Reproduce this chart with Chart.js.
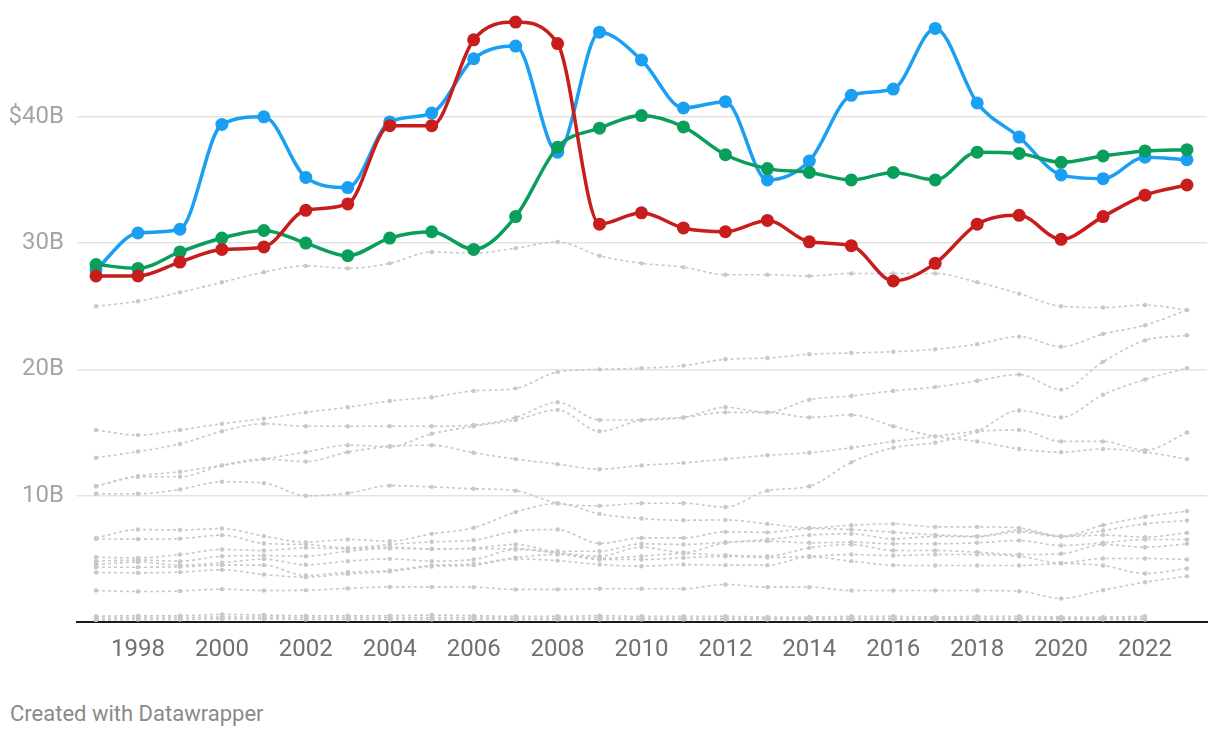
<!DOCTYPE html>
<html>
<head>
<meta charset="utf-8">
<script src="https://cdn.jsdelivr.net/npm/chart.js@4.4.1/dist/chart.umd.min.js"></script>
<style>
  body { margin: 0; background: #fff; font-family: Roboto, sans-serif; }
  #wrap { position: relative; width: 1220px; height: 738px; }
  #chart { position: absolute; left: 0; top: 0; }
  #credit { position: absolute; left: 10px; top: 703px; font-size: 22px; line-height: 22px; color: #8a8a8a; }
</style>
</head>
<body>
<div id="wrap">
  <canvas id="chart" width="1220" height="680"></canvas>
  <div id="credit">Created with Datawrapper</div>
</div>
<script>
const years = [1997, 1998, 1999, 2000, 2001, 2002, 2003, 2004, 2005, 2006, 2007, 2008, 2009,
  2010, 2011, 2012, 2013, 2014, 2015, 2016, 2017, 2018, 2019, 2020, 2021, 2022, 2023];
const xTicks = [1998, 2000, 2002, 2004, 2006, 2008, 2010, 2012, 2014, 2016, 2018, 2020, 2022];
const yTicks = [0, 10, 20, 30, 40];

// highlighted series (billions)
const red = [27.4, 27.4, 28.5, 29.5, 29.7, 32.6, 33.1, 39.3, 39.3, 46.1, 47.5, 45.8, 31.5, 32.4,
  31.2, 30.9, 31.8, 30.1, 29.8, 27.0, 28.4, 31.5, 32.2, 30.3, 32.1, 33.8, 34.6];
const green = [28.3, 28.0, 29.3, 30.4, 31.0, 30.0, 29.0, 30.4, 30.9, 29.5, 32.1, 37.6, 39.1, 40.1,
  39.2, 37.0, 35.9, 35.6, 35.0, 35.6, 35.0, 37.2, 37.1, 36.4, 36.9, 37.3, 37.4];
const blue = [27.9, 30.8, 31.1, 39.4, 40.0, 35.2, 34.4, 39.6, 40.3, 44.6, 45.6, 37.2, 46.7, 44.5,
  40.7, 41.2, 35.0, 36.5, 41.7, 42.2, 47.0, 41.1, 38.4, 35.4, 35.1, 36.8, 36.6];

// background series
const grayA = [25.0, 25.4, 26.1, 26.9, 27.7, 28.2, 28.0, 28.4, 29.3, 29.2, 29.6, 30.1, 29.0, 28.4,
  28.1, 27.5, 27.5, 27.4, 27.6, 27.6, 27.6, 26.9, 26.0, 25.0, 24.9, 25.1, 24.7];
const grayB = [15.2, 14.8, 15.2, 15.7, 16.1, 16.6, 17.0, 17.5, 17.8, 18.3, 18.5, 19.8, 20.0, 20.1,
  20.3, 20.8, 20.9, 21.2, 21.3, 21.4, 21.6, 22.0, 22.6, 21.8, 22.8, 23.5, 24.7];
const grayC = [13.0, 13.5, 14.1, 15.1, 15.7, 15.5, 15.5, 15.5, 15.5, 15.6, 16.2, 17.4, 16.0, 16.0,
  16.2, 17.0, 16.6, 17.6, 17.9, 18.3, 18.6, 19.1, 19.6, 18.4, 20.6, 22.3, 22.7];
const grayD = [10.75, 11.55, 11.9, 12.4, 12.9, 13.45, 14.0, 13.9, 14.9, 15.5, 16.0, 16.8, 15.1, 16.0,
  16.2, 16.6, 16.6, 16.2, 16.4, 15.5, 14.7, 14.3, 13.7, 13.45, 13.7, 13.45, 12.9];
const grayE = [10.75, 11.5, 11.5, 12.4, 12.9, 12.7, 13.45, 13.9, 14.0, 13.4, 12.9, 12.5, 12.1, 12.4,
  12.6, 12.9, 13.2, 13.4, 13.8, 14.3, 14.7, 15.1, 15.2, 14.3, 14.3, 13.6, 15.0];
const grayF = [10.15, 10.15, 10.5, 11.1, 11.0, 10.0, 10.2, 10.8, 10.7, 10.55, 10.4, 9.4, 9.2, 9.4,
  9.4, 9.1, 10.4, 10.75, 12.65, 13.8, 14.2, 15.1, 16.75, 16.2, 18.0, 19.2, 20.1];
const grayG = [6.66, 7.32, 7.29, 7.4, 6.8, 6.32, 6.53, 6.4, 6.98, 7.46, 8.7, 9.38, 8.56, 8.19,
  8.06, 8.08, 7.77, 7.45, 7.67, 7.77, 7.53, 7.53, 7.45, 6.8, 7.67, 8.33, 8.78];
const grayH = [6.58, 6.56, 6.6, 6.88, 6.22, 6.14, 5.87, 6.14, 6.35, 6.48, 7.19, 7.32, 6.22, 6.66,
  6.66, 7.14, 7.1, 7.4, 7.32, 7.11, 6.9, 6.8, 7.27, 6.78, 7.24, 7.77, 8.04];
const grayI = [5.13, 5.08, 5.34, 5.74, 5.66, 5.87, 5.8, 5.93, 5.79, 5.85, 6.14, 5.6, 5.6, 6.19,
  6.14, 6.32, 6.53, 6.88, 6.98, 6.58, 6.78, 6.75, 7.14, 6.75, 6.88, 6.72, 7.06];
const grayJ = [4.82, 4.9, 4.82, 5.21, 5.26, 5.21, 5.61, 5.82, 5.79, 5.8, 5.8, 5.5, 5.21, 5.93,
  5.5, 6.27, 6.4, 6.27, 6.32, 6.19, 6.19, 6.27, 6.45, 6.06, 6.27, 6.53, 6.53];
const grayK = [4.55, 4.74, 4.5, 4.69, 4.98, 4.53, 4.82, 5.0, 4.82, 4.95, 5.74, 5.45, 5.05, 5.21,
  5.42, 5.29, 5.21, 5.87, 6.14, 5.66, 5.66, 5.53, 5.34, 5.4, 6.14, 5.92, 6.19];
const grayL = [4.34, 4.34, 4.37, 4.5, 4.5, 3.68, 3.95, 4.08, 4.48, 4.6, 5.1, 5.35, 4.95, 4.95,
  5.08, 5.2, 5.1, 5.21, 5.34, 5.26, 5.34, 5.34, 5.2, 4.68, 5.03, 5.03, 4.95];
const grayM = [3.92, 3.89, 3.95, 4.13, 3.76, 3.55, 3.81, 4.0, 4.4, 4.5, 5.0, 4.86, 4.55, 4.42,
  4.55, 4.5, 4.5, 5.15, 4.82, 4.5, 4.47, 4.47, 4.47, 4.63, 4.47, 3.84, 4.24];
const grayN = [2.49, 2.41, 2.45, 2.6, 2.49, 2.52, 2.65, 2.78, 2.78, 2.76, 2.58, 2.58, 2.63, 2.63,
  2.63, 2.97, 2.76, 2.76, 2.49, 2.49, 2.49, 2.49, 2.44, 1.86, 2.52, 3.15, 3.63];
const grayO = [0.45, 0.5, 0.5, 0.6, 0.55, 0.5, 0.5, 0.5, 0.55, 0.5, 0.45, 0.45, 0.5, 0.45,
  0.45, 0.45, 0.4, 0.4, 0.45, 0.45, 0.4, 0.45, 0.45, 0.4, 0.4, 0.45, null];
const grayP = [0.3, 0.35, 0.35, 0.4, 0.4, 0.35, 0.35, 0.35, 0.35, 0.35, 0.3, 0.3, 0.35, 0.3,
  0.3, 0.3, 0.3, 0.3, 0.3, 0.3, 0.3, 0.3, 0.3, 0.3, 0.3, 0.3, null];
const grayQ = [0.15, 0.2, 0.2, 0.25, 0.25, 0.2, 0.2, 0.2, 0.2, 0.2, 0.2, 0.2, 0.2, 0.2,
  0.2, 0.2, 0.2, 0.2, 0.2, 0.2, 0.2, 0.2, 0.2, 0.2, 0.2, 0.2, null];

const grays = [grayA, grayB, grayC, grayD, grayE, grayF, grayG, grayH, grayI, grayJ, grayK,
  grayL, grayM, grayN, grayO, grayP, grayQ];

const toPoints = (vals) => vals.map((v, i) => ({ x: years[i], y: v }));

function mainLine(vals, color, order) {
  return {
    data: toPoints(vals),
    borderColor: color,
    backgroundColor: color,
    borderWidth: 3.5,
    pointRadius: 6.5,
    pointBorderWidth: 0,
    cubicInterpolationMode: 'monotone',
    order
  };
}

function grayLine(vals) {
  return {
    data: toPoints(vals),
    borderColor: '#c8c8c8',
    backgroundColor: '#c8c8c8',
    borderWidth: 1.6,
    borderDash: [3, 3],
    pointRadius: 2.2,
    pointBorderWidth: 0,
    cubicInterpolationMode: 'monotone',
    order: 10
  };
}

const tickFont = { family: 'Roboto', size: 24 };

new Chart(document.getElementById('chart'), {
  type: 'line',
  data: {
    datasets: [
      mainLine(red, '#c71e1d', 1),
      mainLine(green, '#0a9e5b', 2),
      mainLine(blue, '#1a9ff2', 3)
    ].concat(grays.map(grayLine))
  },
  options: {
    responsive: false,
    animation: false,
    layout: { padding: { top: 12, right: 13, left: 0, bottom: 0 } },
    plugins: { legend: { display: false }, tooltip: { enabled: false } },
    scales: {
      x: {
        type: 'linear',
        min: 1996.547,
        max: 2023.477,
        afterBuildTicks: (s) => { s.ticks = xTicks.map((v) => ({ value: v })); },
        afterFit: (s) => { s.height = 58; s.paddingLeft = 0; s.paddingRight = 0; },
        grid: { display: false, drawTicks: false },
        border: { display: true, color: '#1a1a1a', width: 2 },
        ticks: {
          color: '#707070',
          font: tickFont,
          padding: 14,
          maxRotation: 0,
          autoSkip: false,
          callback: (v) => String(v)
        }
      },
      y: {
        min: 0,
        max: 48.3,
        afterBuildTicks: (s) => { s.ticks = yTicks.map((v) => ({ value: v })); },
        afterFit: (s) => { s.width = 77; s.paddingTop = 0; s.paddingBottom = 0; },
        grid: {
          color: (c) => (c.tick && c.tick.value === 0 ? 'rgba(0,0,0,0)' : '#e3e3e3'),
          lineWidth: 1.5,
          drawTicks: false
        },
        border: { display: false },
        ticks: {
          color: '#a5a5a5',
          font: tickFont,
          padding: 13,
          callback: (v) => (v === 0 ? '' : v === 40 ? '$40B' : v + 'B')
        }
      }
    }
  }
});
</script>
</body>
</html>
